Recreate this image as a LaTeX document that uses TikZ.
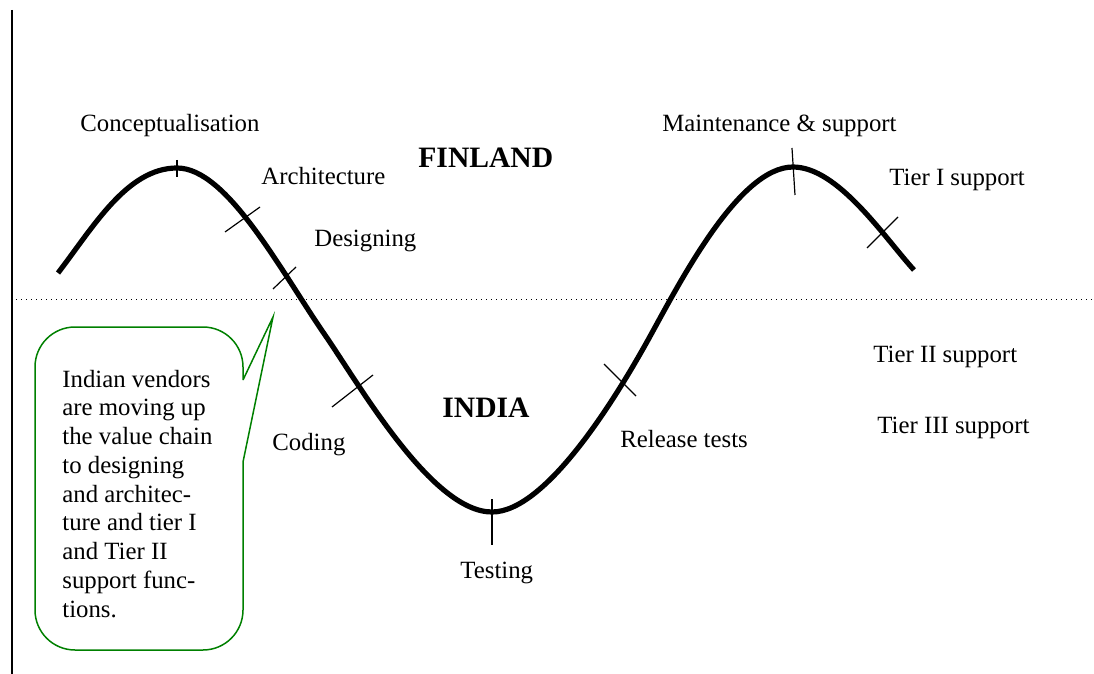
\documentclass[tikz,border=0pt]{standalone}
\usepackage{fontspec}
\setmainfont{Liberation Serif}
\definecolor{callgreen}{RGB}{0,128,0}
\begin{document}
\begin{tikzpicture}[x=0.5pt,y=-0.5pt,
  lbl/.style={anchor=base west,inner sep=0pt,font=\fontsize{12.4}{14.4}\selectfont},
  region/.style={anchor=base west,inner sep=0pt,font=\fontsize{14.8}{17}\selectfont\bfseries},
  wave/.style={line width=2.6pt,line cap=butt},
  tick/.style={line width=0.6pt},
  callout/.style={draw=callgreen,line width=0.75pt}]
\useasboundingbox (0,0) rectangle (1094,674);
% left rule and dotted divider
\draw[line width=1.1pt] (12,10) -- (12,674);
\draw[dotted,line width=0.5pt] (16,300) -- (1094,300);
% wave
\draw[wave] (58,273) .. controls (93,227.5) and (127,168) .. (177,168)
  .. controls (227,168) and (280,269.75) .. (325,335)
  .. controls (360,385.75) and (432,512) .. (492,512)
  .. controls (547,512) and (618,394) .. (648,340)
  .. controls (678,286) and (738,167) .. (793,167)
  .. controls (838,167) and (884,237) .. (914,270);
% ticks
\draw[tick] (177,160) -- (177,177);
\draw[tick] (225,232) -- (260,207);
\draw[tick] (273,289) -- (296,267);
\draw[tick] (332,407) -- (373,375);
\draw[tick] (492,499) -- (492,545);
\draw[tick] (604,364) -- (636,396);
\draw[tick] (792,148) -- (795,195);
\draw[tick] (867,248) -- (898,217);
% labels
\node[lbl] (concept) at (80,132) {Conceptualisation};
\node[lbl] (arch) at (261,185) {Architecture};
\node[lbl] (design) at (314,247) {Designing};
\node[region] (finland) at (418,168) {FINLAND};
\node[lbl] (maint) at (662,132) {Maintenance \& support};
\node[lbl] (tier1) at (889,186) {Tier I support};
\node[lbl] (tier2) at (873,362) {Tier II support};
\node[lbl] (tier3) at (877,433) {Tier III support};
\node[region] (india) at (442,417) {INDIA};
\node[lbl] (coding) at (272,450) {Coding};
\node[lbl] (release) at (620,447) {Release tests};
\node[lbl] (testing) at (460,578) {Testing};
% callout
\draw[callout] (243,380) -- (273,317) -- (243,462)
  [rounded corners=20pt] -- (243,650) -- (35,650) -- (35,327) -- (243,327) -- (243,380);
\node[anchor=base west,inner sep=0pt,align=left,
  font=\fontsize{12.4}{14.375}\selectfont] (note) at (62,617)
 {Indian vendors\\are moving up\\the value chain\\to designing\\and architec-\\ture and tier I\\and Tier II\\support func-\\tions.};
\end{tikzpicture}
\end{document}
